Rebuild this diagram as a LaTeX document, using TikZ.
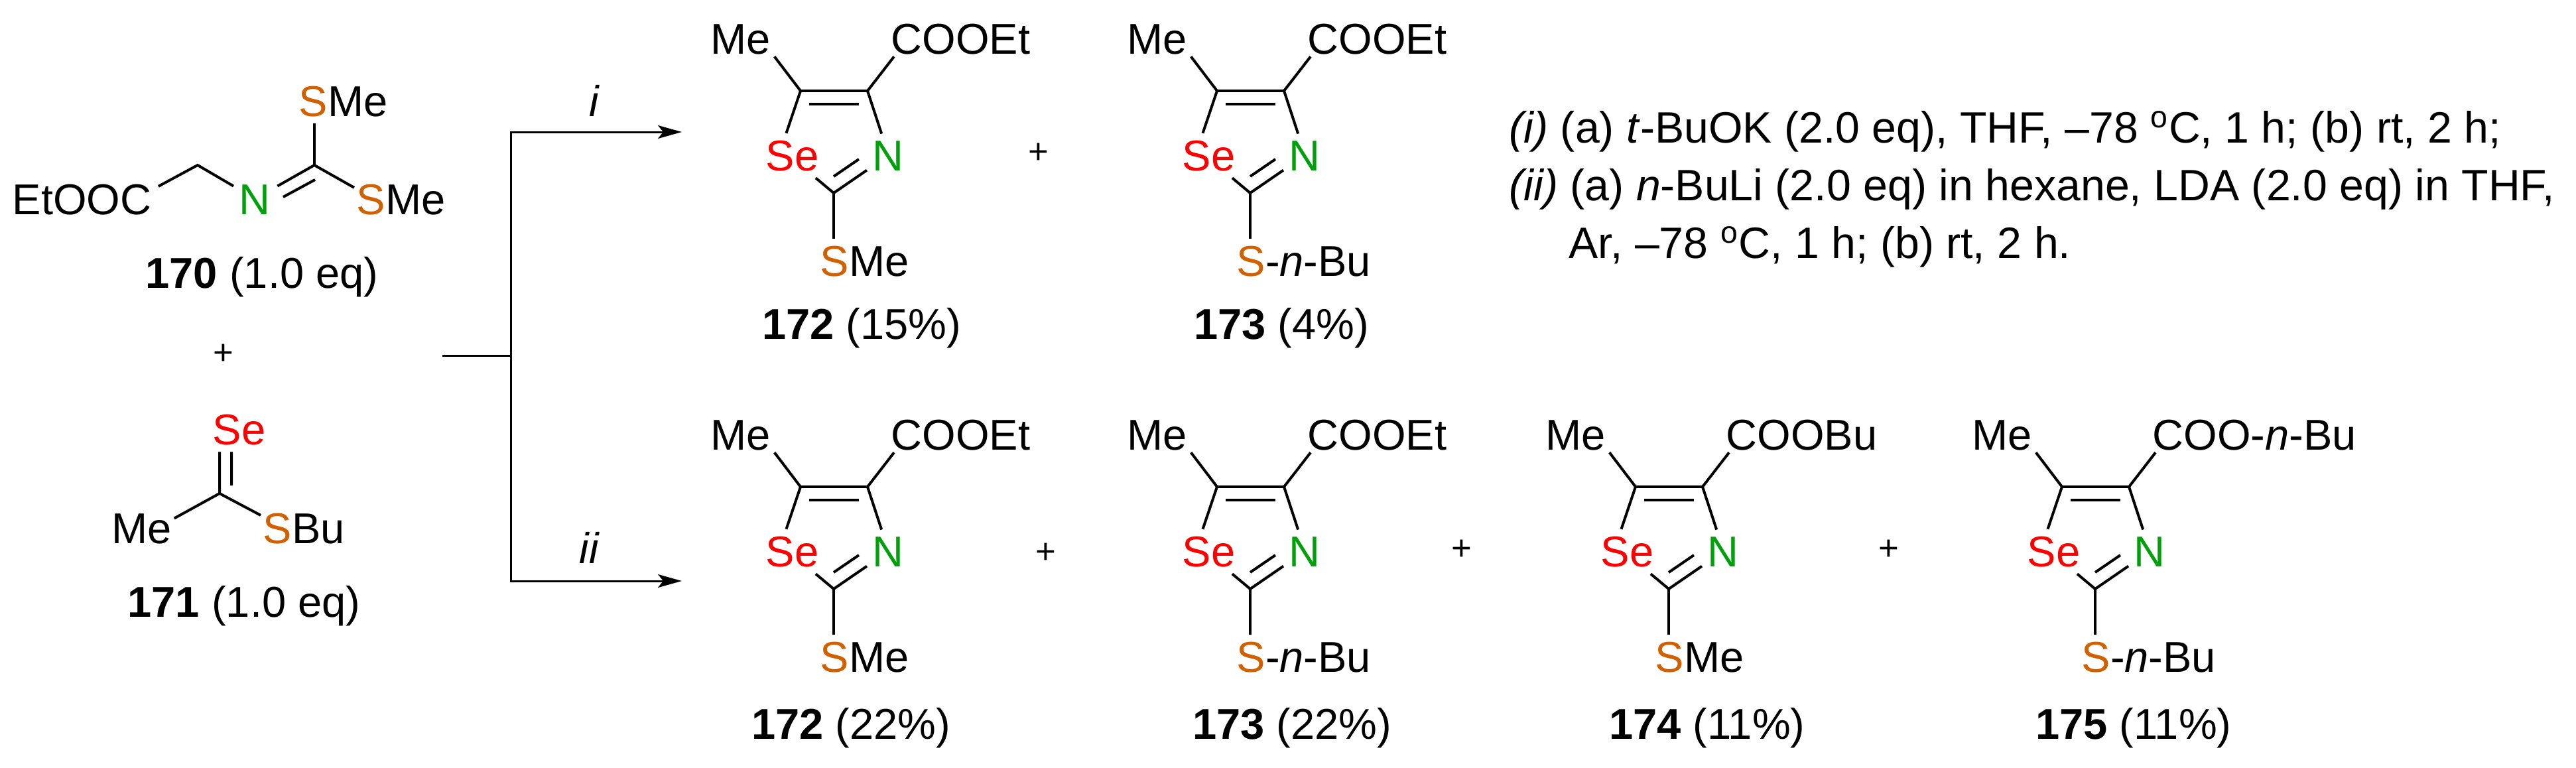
\documentclass[tikz,border=0pt]{standalone}
\usepackage{fontspec}
\setmainfont{Liberation Sans}
\usetikzlibrary{arrows.meta,calc}
\definecolor{selenium}{RGB}{255,0,0}
\definecolor{nitrogen}{RGB}{0,160,10}
\definecolor{sulfur}{RGB}{208,96,0}
\tikzset{
  every node/.style={font=\fontsize{18.5}{22}\selectfont},
  group/.style={anchor=base west,inner xsep=.03cm,inner ysep=.03cm},
  atom/.style={anchor=base west,inner xsep=.03cm,inner ysep=.1cm},
  cmpd/.style={anchor=base,inner sep=0},
  plus/.style={inner sep=0,font=\fontsize{15}{18}\selectfont},
  condition/.style={group,font=\fontsize{18.85}{22}\selectfont},
  bond/.style={line width=.04cm},
  rxn/.style={line width=.03cm},
  rxnarrow/.style={rxn,-{Stealth[length=.36cm,width=.2cm,inset=.08cm]}}
}
% ring at the place of the upper 172, moved by #2
\newcommand{\selenazole}[4]{
\begin{scope}[shift={(#2)},name prefix=#1-]
\coordinate (c5) at (12.07,-1.37);
\coordinate (c4) at (13.08,-1.37);
\coordinate (c2) at (12.57,-2.91);
\coordinate (c5i) at (12.20,-1.57);
\coordinate (c4i) at (12.95,-1.57);
\coordinate (c2i) at (12.57,-2.66);
\coordinate (ni) at (12.95,-2.40);
\node[group] (me) at (10.68,-.81) {Me};
\node[group] (ester) at (13.40,-.81) {#3};
\node[atom,text=selenium] (se) at (11.51,-2.57) {Se};
\node[atom,text=nitrogen] (nn) at (13.12,-2.57) {N};
\node[atom] (sgrp) at (12.33,-4.16) {{\color{sulfur}S}#4};
\draw[bond] ([xshift=.02cm]me.south east) -- (c5) -- ([xshift=-.09cm]se.north);
\draw[bond] ([xshift=.08cm]ester.south west) -- (c4) -- ([xshift=-.1cm]nn.north);
\draw[bond] (c5) -- (c4);
\draw[bond] (c5i) -- (c4i);
\draw[bond] ([xshift=-.08cm]se.south east) -- (c2) -- ([xshift=-.05cm,yshift=-.22cm]nn.west);
\draw[bond] (c2i) -- (ni);
\draw[bond] (c2) -- ([xshift=.24cm]sgrp.north west);
\end{scope}
}

\begin{document}
\begin{tikzpicture}
\useasboundingbox (0,0) rectangle (38.84,-11.57);

% 170
\node[group] (etooc) at (.15,-3.23) {EtOOC};
\node[atom,text=nitrogen] (n170) at (3.57,-3.23) {N};
\node[atom] (smeup) at (4.47,-1.75) {{\color{sulfur}S}Me};
\node[atom] (smelow) at (5.34,-3.23) {{\color{sulfur}S}Me};
\coordinate (ch2) at (2.98,-2.49);
\coordinate (c170) at (4.74,-2.49);
\coordinate (c170i) at (4.75,-2.71);
\coordinate (n170i) at (4.27,-2.97);
\draw[bond] ([xshift=.07cm,yshift=-.07cm]etooc.north east) -- (ch2) -- ([xshift=-.05cm,yshift=-.13cm]n170.north west);
\draw[bond] ([xshift=.07cm,yshift=-.13cm]n170.north east) -- (c170) -- ([yshift=-.16cm]smelow.north west);
\draw[bond] (n170i) -- (c170i);
\draw[bond] (c170) -- ([xshift=.27cm]smeup.south west);
\node[cmpd] (l170) at (3.95,-4.34) {\textbf{170} (1.0 eq)};
\node[plus] (p0) at (3.37,-5.34) {+};

% 171
\node[atom,text=selenium] (se171) at (3.17,-6.70) {Se};
\node[group] (me171) at (1.65,-8.19) {Me};
\node[atom] (sbu) at (3.93,-8.19) {{\color{sulfur}S}Bu};
\coordinate (c171) at (3.31,-7.44);
\coordinate (c171i) at (3.49,-7.32);
\draw[bond] ([xshift=.14cm]se171.south west) -- (c171);
\draw[bond] ([xshift=.32cm]se171.south west) -- (c171i);
\draw[bond] ([yshift=-.11cm]me171.north east) -- (c171) -- ([yshift=-.14cm]sbu.north west);
\node[cmpd] (l171) at (3.68,-9.30) {\textbf{171} (1.0 eq)};

% arrows
\coordinate (start) at (6.67,-5.36);
\coordinate (fork) at (7.70,-5.36);
\coordinate (endi) at (10.28,-1.99);
\coordinate (endii) at (10.28,-8.76);
\draw[rxn] (start) -- (fork);
\draw[rxnarrow] (fork) |- (endi);
\draw[rxnarrow] (fork) |- (endii);
\node[cmpd] (li) at (8.96,-1.75) {\textit{i}};
\node[cmpd] (lii) at (8.89,-8.49) {\textit{ii}};

% products
\selenazole{a}{0,0}{COOEt}{Me}
\selenazole{b}{6.28,0}{COOEt}{-\textit{n}-Bu}
\selenazole{c}{0,-5.97}{COOEt}{Me}
\selenazole{d}{6.28,-5.97}{COOEt}{-\textit{n}-Bu}
\selenazole{e}{12.59,-5.97}{COOBu}{Me}
\selenazole{f}{19.02,-5.97}{COO-\textit{n}-Bu}{-\textit{n}-Bu}

\node[cmpd] (l172a) at (12.99,-5.11) {\textbf{172} (15\%)};
\node[cmpd] (l173a) at (19.32,-5.11) {\textbf{173} (4\%)};
\node[cmpd] (l172b) at (12.83,-11.14) {\textbf{172} (22\%)};
\node[cmpd] (l173b) at (19.48,-11.14) {\textbf{173} (22\%)};
\node[cmpd] (l174) at (25.74,-11.14) {\textbf{174} (11\%)};
\node[cmpd] (l175) at (32.17,-11.14) {\textbf{175} (11\%)};

\node[plus] (p1) at (15.66,-2.31) {+};
\node[plus] (p2) at (15.77,-8.34) {+};
\node[plus] (p3) at (22.04,-8.29) {+};
\node[plus] (p4) at (28.48,-8.29) {+};

% conditions
\node[condition] (ci) at (22.72,-2.15) {\textit{(i)} (a) \textit{t}-BuOK (2.0 eq), THF, --78 \textsuperscript{o}C, 1 h; (b) rt, 2 h;};
\node[condition] (cii) at (22.72,-3.02) {\textit{(ii)} (a) \textit{n}-BuLi (2.0 eq) in hexane, LDA (2.0 eq) in THF,};
\node[condition] (ciii) at (23.62,-3.89) {Ar, --78 \textsuperscript{o}C, 1 h; (b) rt, 2 h.};
\end{tikzpicture}
\end{document}
